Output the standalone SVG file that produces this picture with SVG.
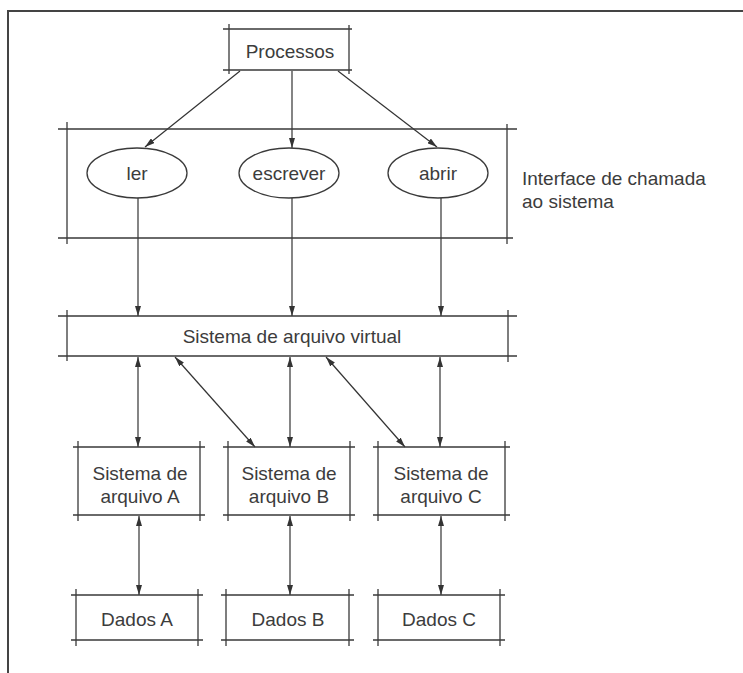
<svg xmlns="http://www.w3.org/2000/svg" width="743" height="673" viewBox="0 0 743 673">
  <style>
    .edge { stroke: #3a3a3a; stroke-width: 1.3; fill: none; }
    .frame { stroke: #444; stroke-width: 2; fill: none; }
    .conn { stroke: #333; stroke-width: 1.2; fill: none; }
    .ell { stroke: #3a3a3a; stroke-width: 1.3; fill: #fff; }
    text { font-family: "Liberation Sans", Arial, sans-serif; font-size: 19px; fill: #3c3c3c; }
    .c { text-anchor: middle; dominant-baseline: central; }
  </style>
  <defs>
    <marker id="tip" viewBox="0 0 10 6" refX="10" refY="3" markerWidth="10" markerHeight="6" markerUnits="userSpaceOnUse" orient="auto-start-reverse">
      <path d="M0,0 L10,3 L0,6 Z" fill="#333"/>
    </marker>
  </defs>

  <rect width="743" height="673" fill="#fff"/>

  <!-- outer frame -->
  <path class="frame" d="M8,673 V11 H743"/>

  <!-- connectors -->
  <g id="connectors">
    <line class="conn" x1="240" y1="71" x2="145" y2="147" marker-end="url(#tip)"/>
    <line class="conn" x1="292" y1="71" x2="292" y2="148" marker-end="url(#tip)"/>
    <line class="conn" x1="338" y1="71" x2="437" y2="147" marker-end="url(#tip)"/>

    <line class="conn" x1="138" y1="198" x2="138" y2="316" marker-end="url(#tip)"/>
    <line class="conn" x1="292" y1="198" x2="292" y2="316" marker-end="url(#tip)"/>
    <line class="conn" x1="441" y1="198" x2="441" y2="316" marker-end="url(#tip)"/>

    <line class="conn" x1="138" y1="357" x2="138" y2="447" marker-start="url(#tip)" marker-end="url(#tip)"/>
    <line class="conn" x1="175" y1="357" x2="255" y2="447" marker-start="url(#tip)" marker-end="url(#tip)"/>
    <line class="conn" x1="290" y1="357" x2="290" y2="447" marker-start="url(#tip)" marker-end="url(#tip)"/>
    <line class="conn" x1="326" y1="357" x2="405" y2="447" marker-start="url(#tip)" marker-end="url(#tip)"/>
    <line class="conn" x1="440" y1="357" x2="440" y2="447" marker-start="url(#tip)" marker-end="url(#tip)"/>

    <line class="conn" x1="139" y1="516" x2="139" y2="595" marker-start="url(#tip)" marker-end="url(#tip)"/>
    <line class="conn" x1="290" y1="516" x2="290" y2="595" marker-start="url(#tip)" marker-end="url(#tip)"/>
    <line class="conn" x1="441" y1="516" x2="441" y2="595" marker-start="url(#tip)" marker-end="url(#tip)"/>
  </g>

  <!-- Processos -->
  <g id="processos">
    <path class="edge" d="M223,29 H352 M223,70 H352 M229,24 V74 M349,25 V74"/>
    <text class="c" x="290" y="51">Processos</text>
  </g>

  <!-- system call interface band -->
  <g id="interface">
    <path class="edge" d="M58,129 H517 M58,238 H513 M67,122 V244 M507,124 V244"/>
    <text x="522" y="185">Interface de chamada</text>
    <text x="522" y="208">ao sistema</text>
  </g>

  <g id="ler">
    <ellipse class="ell" cx="137" cy="173" rx="50" ry="25"/>
    <text class="c" x="137" y="173">ler</text>
  </g>
  <g id="escrever">
    <ellipse class="ell" cx="289" cy="173" rx="50" ry="25"/>
    <text class="c" x="289" y="173">escrever</text>
  </g>
  <g id="abrir">
    <ellipse class="ell" cx="438" cy="173" rx="50" ry="25"/>
    <text class="c" x="438" y="173">abrir</text>
  </g>

  <!-- virtual file system -->
  <g id="vfs">
    <path class="edge" d="M58,316 H517 M58,356 H517 M67,310 V361 M508,310 V362"/>
    <text class="c" x="292" y="336">Sistema de arquivo virtual</text>
  </g>

  <!-- file systems -->
  <g id="fs-a">
    <path class="edge" d="M73,447 H205 M73,515 H205 M78,441 V521 M200,441 V521"/>
    <text class="c" x="140" y="473">Sistema de</text>
    <text class="c" x="140" y="496">arquivo A</text>
  </g>
  <g id="fs-b">
    <path class="edge" d="M223,447 H355 M223,515 H355 M228,441 V521 M350,441 V521"/>
    <text class="c" x="289" y="473">Sistema de</text>
    <text class="c" x="289" y="496">arquivo B</text>
  </g>
  <g id="fs-c">
    <path class="edge" d="M373,447 H510 M373,515 H510 M378,441 V521 M505,441 V521"/>
    <text class="c" x="441" y="473">Sistema de</text>
    <text class="c" x="441" y="496">arquivo C</text>
  </g>

  <!-- data stores -->
  <g id="dados-a">
    <path class="edge" d="M71,595 H203 M71,640 H203 M76,589 V646 M198,589 V646"/>
    <text class="c" x="137" y="619">Dados A</text>
  </g>
  <g id="dados-b">
    <path class="edge" d="M221,595 H354 M221,640 H354 M226,589 V646 M349,589 V646"/>
    <text class="c" x="288" y="619">Dados B</text>
  </g>
  <g id="dados-c">
    <path class="edge" d="M373,595 H505 M373,640 H505 M378,589 V646 M500,589 V646"/>
    <text class="c" x="439" y="619">Dados C</text>
  </g>
</svg>
